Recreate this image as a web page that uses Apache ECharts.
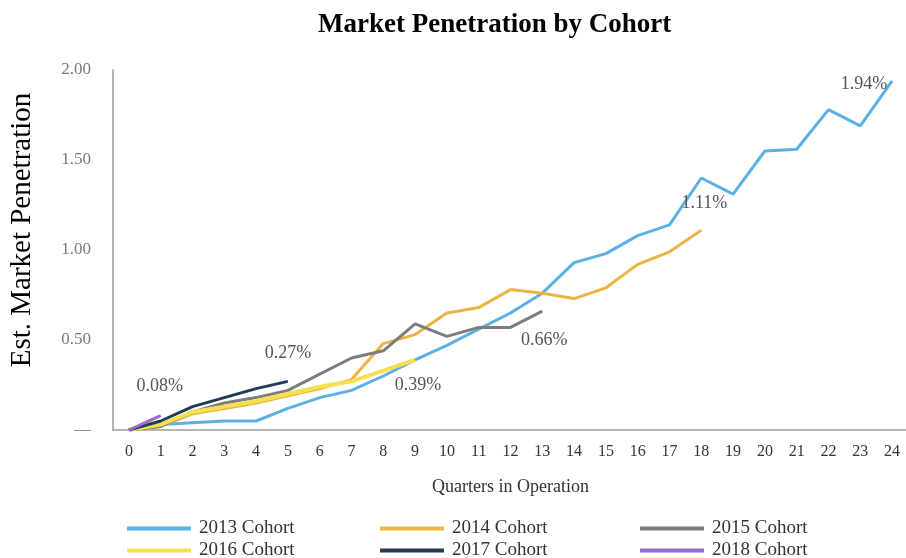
<!DOCTYPE html>
<html>
<head>
<meta charset="utf-8">
<script src="https://cdn.jsdelivr.net/npm/echarts@6/dist/echarts.min.js"></script>
<style>
  html, body { margin: 0; padding: 0; background: #fff; }
  #chart { width: 906px; height: 558px; }
</style>
</head>
<body>
<div id="chart"></div>
<script>
// quarters in operation
const quarters = ["0","1","2","3","4","5","6","7","8","9","10","11","12","13","14","15","16","17","18","19","20","21","22","23","24"];

// est. market penetration (%) per cohort
const cohort2013 = [0, 0.03, 0.04, 0.05, 0.05, 0.12, 0.18, 0.22, 0.30, 0.39, 0.47, 0.56, 0.65, 0.76, 0.93, 0.98, 1.08, 1.14, 1.40, 1.31, 1.55, 1.56, 1.78, 1.69, 1.94];
const cohort2014 = [0, 0.02, 0.09, 0.12, 0.15, 0.19, 0.23, 0.28, 0.48, 0.53, 0.65, 0.68, 0.78, 0.76, 0.73, 0.79, 0.92, 0.99, 1.11];
const cohort2015 = [0, 0.02, 0.10, 0.15, 0.18, 0.22, 0.31, 0.40, 0.44, 0.59, 0.52, 0.57, 0.57, 0.66];
const cohort2016 = [0, 0.03, 0.10, 0.13, 0.16, 0.20, 0.24, 0.27, 0.33, 0.39];
const cohort2017 = [0, 0.05, 0.13, 0.18, 0.23, 0.27];
const cohort2018 = [0, 0.08];

const cohortNames = ["2013 Cohort", "2014 Cohort", "2015 Cohort", "2016 Cohort", "2017 Cohort", "2018 Cohort"];

const serif = "'Liberation Serif', 'DejaVu Serif', serif";

// end-of-line callout, offset from the last point
function endNote(data, dx, dy) {
  const i = data.length - 1;
  return {
    symbol: "circle",
    symbolSize: 1,
    itemStyle: { color: "transparent" },
    label: {
      show: true,
      position: "inside",
      offset: [dx, dy],
      formatter: (p) => p.value.toFixed(2) + "%",
      fontFamily: serif,
      fontSize: 18,
      color: "#555",
    },
    data: [{ coord: [i, data[i]], value: data[i] }],
  };
}

function cohort(name, data, color, width, note) {
  return {
    name: name,
    type: "line",
    data: data,
    showSymbol: false,
    symbol: "none",
    lineStyle: { color: color, width: width },
    itemStyle: { color: color },
    markPoint: note,
  };
}

// one legend per cell: 3 columns x 2 rows
const legendCols = [127, 380, 640];
const legendRows = [519, 541];
const legends = cohortNames.map((name, i) => ({
  data: [name],
  left: legendCols[i % 3],
  top: legendRows[Math.floor(i / 3)],
  padding: 0,
  itemWidth: 64,
  itemHeight: 4,
  itemGap: 0,
  icon: "rect",
  textStyle: { fontFamily: serif, fontSize: 19, color: "#333", padding: [0, 0, 0, 3] },
}));

const chart = echarts.init(document.getElementById("chart"));

const option = {
  animation: false,
  title: {
    text: "Market Penetration by Cohort",
    left: 313,
    top: 7,
    textStyle: { fontFamily: serif, fontSize: 27, fontWeight: "bold", color: "#000" },
  },
  legend: legends,
  grid: { left: 113, right: -2, top: 70, bottom: 128, outerBoundsMode: "none" },
  xAxis: {
    type: "category",
    data: quarters,
    boundaryGap: true,
    name: "Quarters in Operation",
    nameLocation: "middle",
    nameGap: 48,
    nameTextStyle: { fontFamily: serif, fontSize: 18, color: "#333" },
    axisLine: { lineStyle: { color: "#b5b5b5", width: 2 } },
    axisTick: { show: false },
    axisLabel: { fontFamily: serif, fontSize: 16, color: "#333", margin: 14, interval: 0 },
  },
  yAxis: {
    type: "value",
    min: 0,
    max: 2,
    interval: 0.5,
    name: "Est. Market Penetration",
    nameLocation: "middle",
    nameGap: 76,
    nameTextStyle: { fontFamily: serif, fontSize: 29, color: "#000", padding: [0, 0, 0, 40] },
    axisLine: { show: true, lineStyle: { color: "#b5b5b5", width: 2 } },
    axisTick: { show: false },
    splitLine: { show: false },
    axisLabel: {
      fontFamily: serif,
      fontSize: 17,
      color: "#7a7a7a",
      margin: 22,
      formatter: (v) => (v === 0 ? "—" : v.toFixed(2)),
    },
  },
  series: [
    cohort("2013 Cohort", cohort2013, "#5cb0e4", 3, endNote(cohort2013, -28, 3)),
    cohort("2014 Cohort", cohort2014, "#ecb445", 3, endNote(cohort2014, 3, -27)),
    cohort("2015 Cohort", cohort2015, "#7d7d7d", 3, endNote(cohort2015, 2, 29)),
    cohort("2016 Cohort", cohort2016, "#f6e04e", 4, endNote(cohort2016, 3, 25)),
    cohort("2017 Cohort", cohort2017, "#1f3d5a", 3, endNote(cohort2017, 0, -28)),
    cohort("2018 Cohort", cohort2018, "#9a6ad6", 3, endNote(cohort2018, -1, -29)),
  ],
};

chart.setOption(option);
</script>
</body>
</html>
